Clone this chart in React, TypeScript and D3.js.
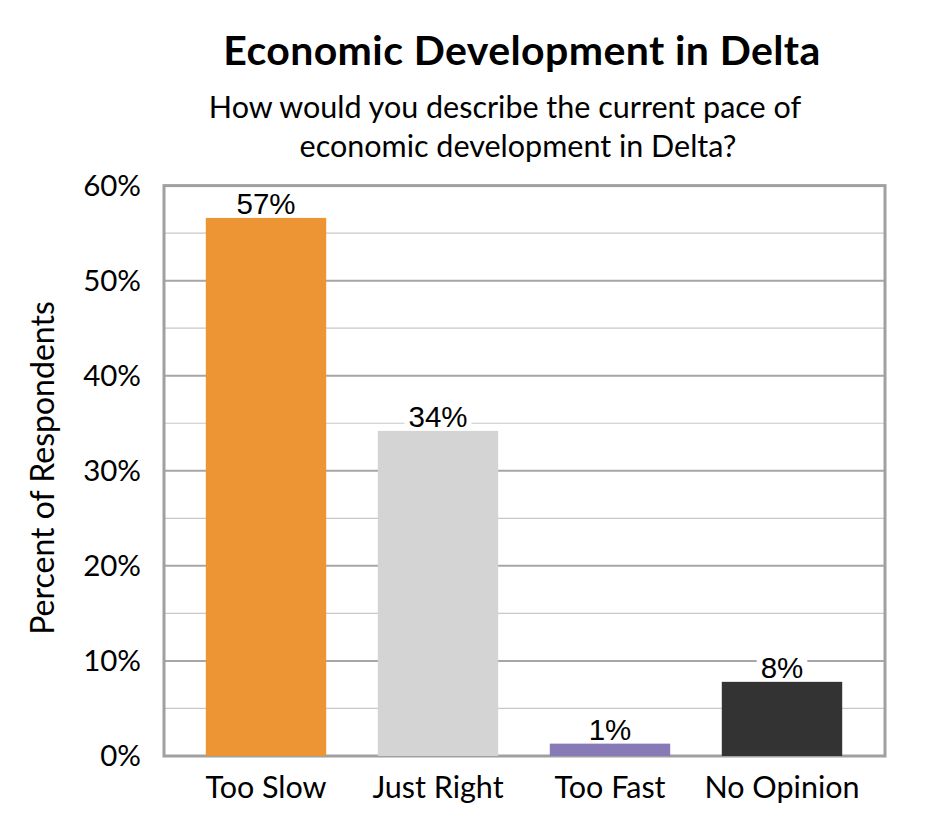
import { useRef, useEffect } from "react";
import * as d3 from "d3";

const categories = ["Too Slow", "Just Right", "Too Fast", "No Opinion"];
const values = [0.566, 0.342, 0.013, 0.078];
const labels = ["57%", "34%", "1%", "8%"];
const colors = ["#ED9434", "#D4D4D4", "#8879B7", "#333333"];
const majorTicks = [0, 0.1, 0.2, 0.3, 0.4, 0.5, 0.6];
const minorTicks = [0.05, 0.15, 0.25, 0.35, 0.45, 0.55];
const subtitleLines = ["How would you describe the current pace of", "economic development in Delta?"];

const W = 945;
const H = 840;
const calibri = "Lato, 'Open Sans', sans-serif";
const arial = "'Liberation Sans', Arial, sans-serif";

export default function App() {
    const svgRef = useRef<SVGSVGElement | null>(null);

    useEffect(() => {
        document.body.style.margin = "0";
        if (!svgRef.current) return;
        const svg = d3.select(svgRef.current);
        svg.selectAll("*").remove();

        const plot = { left: 164, right: 885, top: 185.6, bottom: 756 };

        const x = d3
            .scaleBand()
            .domain(categories)
            .range([180, 868])
            .paddingInner(0.3)
            .paddingOuter(0.15);

        const y = d3.scaleLinear().domain([0, 0.6]).range([plot.bottom, plot.top]);

        // title
        svg.append("text")
            .attr("x", 522)
            .attr("y", 65)
            .attr("text-anchor", "middle")
            .attr("font-family", calibri)
            .attr("font-weight", "bold")
            .attr("font-size", 41)
            .attr("letter-spacing", 0.4)
            .text("Economic Development in Delta");

        const subCenters = [505, 518];
        const subBase = [118, 157];
        subtitleLines.forEach((line, i) => {
            svg.append("text")
                .attr("x", subCenters[i])
                .attr("y", subBase[i])
                .attr("text-anchor", "middle")
                .attr("font-family", calibri)
                .attr("font-size", 30.5)
                .text(line);
        });

        // minor grid
        svg.append("g")
            .selectAll("line")
            .data(minorTicks)
            .enter()
            .append("line")
            .attr("x1", plot.left)
            .attr("x2", plot.right)
            .attr("y1", d => y(d))
            .attr("y2", d => y(d))
            .attr("stroke", "#C8C8C8")
            .attr("stroke-width", 1.2);

        // major grid
        svg.append("g")
            .selectAll("line")
            .data(majorTicks.slice(1, -1))
            .enter()
            .append("line")
            .attr("x1", plot.left)
            .attr("x2", plot.right)
            .attr("y1", d => y(d))
            .attr("y2", d => y(d))
            .attr("stroke", "#A6A6A6")
            .attr("stroke-width", 2);

        // plot border
        svg.append("rect")
            .attr("x", plot.left)
            .attr("y", plot.top)
            .attr("width", plot.right - plot.left)
            .attr("height", plot.bottom - plot.top)
            .attr("fill", "none")
            .attr("stroke", "#A0A0A0")
            .attr("stroke-width", 3);

        // bars
        svg.append("g")
            .selectAll("rect")
            .data(categories)
            .enter()
            .append("rect")
            .attr("x", d => x(d)!)
            .attr("width", x.bandwidth())
            .attr("y", (_, i) => y(values[i]))
            .attr("height", (_, i) => y(0) - y(values[i]))
            .attr("fill", (_, i) => colors[i]);

        // data labels with white backing
        const lab = svg.append("g");
        categories.forEach((c, i) => {
            const cx = x(c)! + x.bandwidth() / 2;
            const by = y(values[i]) - 4;
            const bg = lab.append("rect").attr("fill", "white");
            const t = lab.append("text")
                .attr("x", cx)
                .attr("y", by)
                .attr("text-anchor", "middle")
                .attr("font-family", arial)
                .attr("font-size", 29.5)
                .attr("fill", "#000")
                .text(labels[i]);
            const bb = (t.node() as SVGTextElement).getBBox();
            bg.attr("x", bb.x - 4).attr("y", bb.y + 2).attr("width", bb.width + 8).attr("height", bb.height - 6);
        });

        // y tick labels
        svg.append("g")
            .selectAll("text")
            .data(majorTicks)
            .enter()
            .append("text")
            .attr("x", 141)
            .attr("y", d => y(d))
            .attr("dy", "0.35em")
            .attr("text-anchor", "end")
            .attr("font-family", calibri)
            .attr("font-size", 29.5)
            .text(d => d3.format(".0%")(d));

        // x category labels
        svg.append("g")
            .selectAll("text")
            .data(categories)
            .enter()
            .append("text")
            .attr("x", d => x(d)! + x.bandwidth() / 2)
            .attr("y", 798)
            .attr("text-anchor", "middle")
            .attr("font-family", calibri)
            .attr("font-size", 30.5)
            .text(d => d);

        // y axis title
        svg.append("text")
            .attr("transform", `translate(54,468) rotate(-90)`)
            .attr("text-anchor", "middle")
            .attr("font-family", calibri)
            .attr("font-size", 32)
            .text("Percent of Respondents");
    }, []);

    return <svg ref={svgRef} width={W} height={H} style={{ display: "block", background: "white" }} />;
}
